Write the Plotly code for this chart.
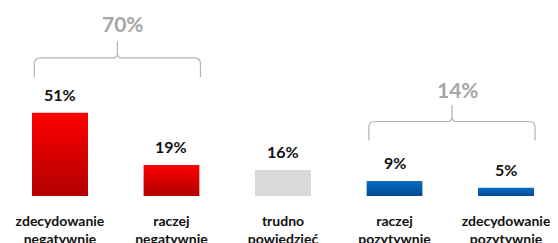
import plotly.graph_objects as go

categories = ["zdecydowanie<br>negatywnie", "raczej<br>negatywnie", "trudno<br>powiedzieć",
              "raczej<br>pozytywnie", "zdecydowanie<br>pozytywnie"]
values = [51, 19, 16, 9, 5]
value_labels = ["51%", "19%", "16%", "9%", "5%"]
group_labels = ["70%", "14%"]
group_members = [[0, 1], [3, 4]]

bar_top = ["#ff0000", "#ff0000", "#d9d9d9", "#0b6cc4", "#0b6cc4"]
bar_bottom = ["#b00000", "#b00000", "#d9d9d9", "#004a8f", "#004a8f"]

W = 0.5
xs = list(range(len(categories)))

fig = go.Figure()
fig.add_trace(go.Bar(x=xs, y=values, width=W, marker=dict(color=bar_top, line=dict(width=0)),
                     hoverinfo="skip", showlegend=False))
for i, v in enumerate(values):
    fig.add_trace(go.Scatter(
        x=[i - W / 2, i + W / 2, i + W / 2, i - W / 2, i - W / 2],
        y=[0, 0, v, v, 0], mode="lines", fill="toself",
        line=dict(color="rgba(0,0,0,0)", width=0),
        fillgradient=dict(type="vertical", colorscale=[[0, bar_bottom[i]], [1, bar_top[i]]]),
        hoverinfo="skip", showlegend=False))

ann = []
for i, v in enumerate(values):
    ann.append(dict(x=i, y=v, text=f"<b>{value_labels[i]}</b>", showarrow=False,
                    yanchor="bottom", yshift=7, font=dict(size=16, color="#111111", family="Lato")))

shapes = []
label_off = [11.2, 9.8]
for g, members in enumerate(group_members):
    x0 = members[0] - W / 2 + 0.02
    x1 = members[-1] + W / 2 + 0.01
    xm = (x0 + x1) / 2
    top = max(values[m] for m in members)
    yb = top + 22 if g == 0 else top + 25
    yh = yb + 11.7
    yt = yh + 10
    rx, ry = 0.06, 3.5
    rtx, rty = 0.035, 3.0
    path = (f"M {x0},{yb} L {x0},{yh - ry} Q {x0},{yh} {x0 + rx},{yh} "
            f"L {xm - rtx},{yh} Q {xm},{yh} {xm},{yh + rty} L {xm},{yt} "
            f"L {xm},{yh + rty} Q {xm},{yh} {xm + rtx},{yh} "
            f"L {x1 - rx},{yh} Q {x1},{yh} {x1},{yh - ry} L {x1},{yb}")
    shapes.append(dict(type="path", path=path, xref="x", yref="y",
                       line=dict(color="#b3b3b3", width=1.2)))
    ann.append(dict(x=xm + 0.05, y=yt + label_off[g], text=f"<b>{group_labels[g]}</b>", showarrow=False,
                    yanchor="middle", font=dict(size=21, color="#a6a6a6", family="Lato")))

# page body has an 8px default margin: the figure is sized and mapped to compensate
fig.update_layout(
    width=550, height=235,
    margin=dict(l=0, r=0, t=0, b=47),
    paper_bgcolor="white", plot_bgcolor="white",
    xaxis=dict(range=[-0.466, 4.466], tickvals=xs, ticktext=categories,
               showgrid=False, zeroline=False, showline=False, ticks="",
               ticklabelstandoff=15, automargin=False,
               tickfont=dict(size=14, color="#111111", family="Lato", weight="bold"),
               fixedrange=True),
    yaxis=dict(range=[0, 115.3], visible=False, fixedrange=True, automargin=False),
    shapes=shapes, annotations=ann, showlegend=False, bargap=0,
)

fig.write_html("out.html")
